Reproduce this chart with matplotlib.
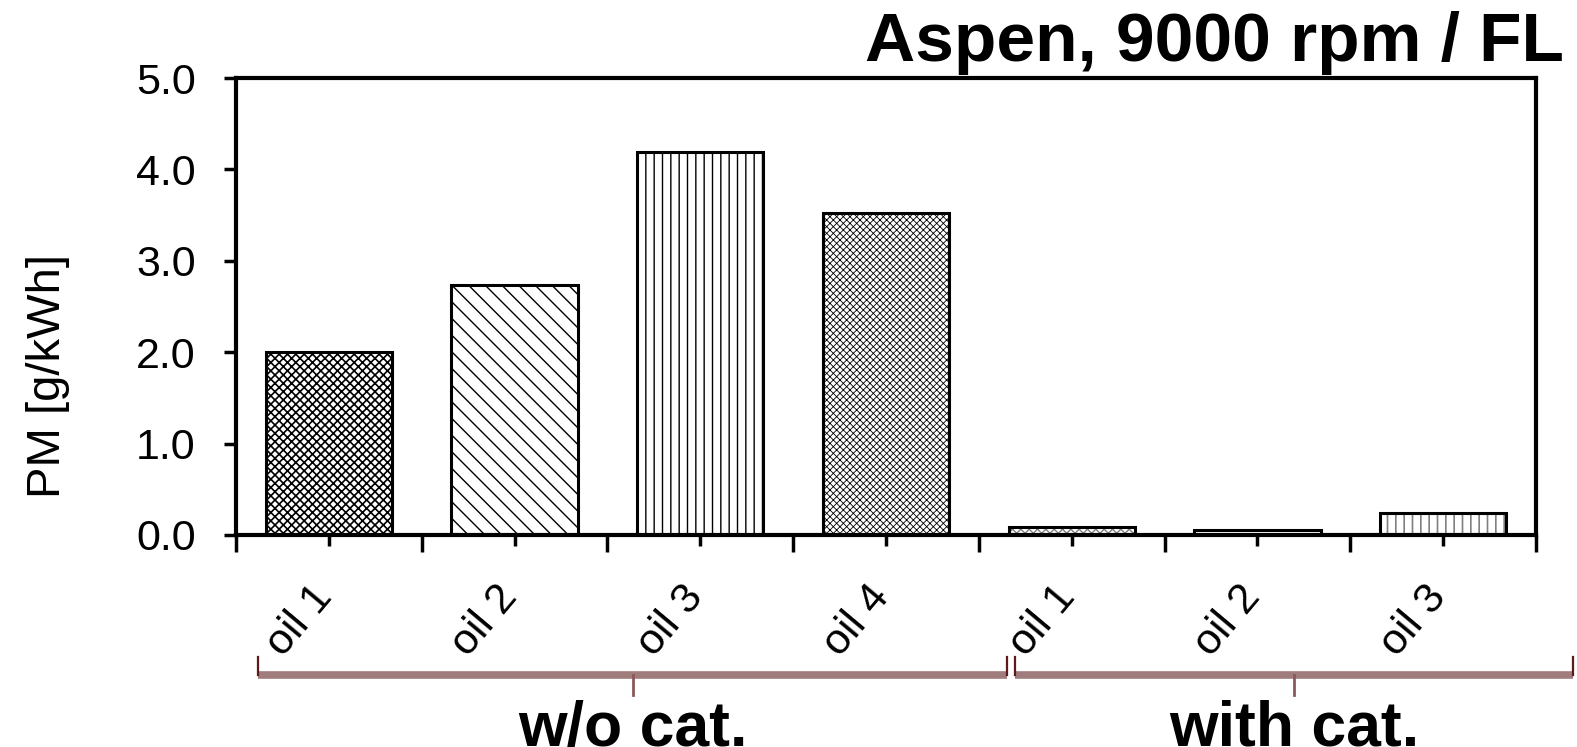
import matplotlib
matplotlib.use("Agg")
import matplotlib.pyplot as plt
import matplotlib.transforms as mtransforms
import numpy as np

plt.rcParams['font.family'] = ['Liberation Sans', 'DejaVu Sans']

# data
oils = ['oil 1', 'oil 2', 'oil 3', 'oil 4', 'oil 1', 'oil 2', 'oil 3']
pm = [2.0, 2.73, 4.19, 3.52, 0.09, 0.055, 0.24]
groups = ['w/o cat.', 'with cat.']

# styles per bar
hatches = ['xxxx', '\\\\', '||', 'xxxxx', 'xxxx', '--', '||']
hatch_cols = ['black', 'black', 'black', 'black', '#808080', '#808080', '#808080']
hatch_lw = [1.2, 1.0, 1.0, 0.6, 1.0, 1.0, 1.2]

fig = plt.figure(figsize=(15.77, 7.47), dpi=100)
ax = fig.add_axes([236/1577, 1-535/747, 1300/1577, 457/747])

x = np.arange(len(pm))
w = 0.68
for i in range(len(pm)):
    with plt.rc_context({'hatch.linewidth': hatch_lw[i]}):
        b = ax.bar(x[i], pm[i], w, color='white', edgecolor=hatch_cols[i],
                   hatch=hatches[i], linewidth=0, zorder=2)
    for p in b:
        if hasattr(p, 'set_hatch_linewidth'):
            p.set_hatch_linewidth(hatch_lw[i])
    ax.bar(x[i], pm[i], w, fill=False, edgecolor='black', linewidth=2.2, zorder=3)

ax.set_xlim(-0.5, len(pm) - 0.5)
ax.set_ylim(0, 5)
yt = np.arange(0, 5.01, 1.0)
ax.set_yticks(yt)
ax.set_yticklabels(['%.1f' % v for v in yt], fontsize=31)
ax.tick_params(axis='y', length=9, width=2.5, pad=20)

# major ticks at category edges, labels at the centres
ax.set_xticks(np.arange(-0.5, len(pm)), [''] * (len(pm) + 1))
ax.set_xticks(x, oils, minor=True)
ax.tick_params(axis='x', which='major', length=12, width=2.5)
ax.tick_params(axis='x', which='minor', length=8, width=2.5, pad=0)
off = mtransforms.ScaledTranslation(-0.04, -0.44, fig.dpi_scale_trans)
for lab in ax.get_xticklabels(minor=True):
    lab.set_fontsize(31)
    lab.set_rotation(50)
    lab.set_ha('right')
    lab.set_va('center')
    lab.set_rotation_mode('anchor')
    lab.set_transform(lab.get_transform() + off)

for s in ax.spines.values():
    s.set_linewidth(3)

ax.set_ylabel('PM [g/kWh]', fontsize=34)
ax.yaxis.set_label_coords(-0.128, 0.348)

fig.text(0.992, 0.985, 'Aspen, 9000 rpm / FL', ha='right', va='top',
         fontsize=50, fontweight='bold')

# group braces under the labels
tr = mtransforms.blended_transform_factory(ax.transData, ax.transAxes)
starts = [-0.38, 3.695]
ends = [3.652, 6.70]
for g in range(len(groups)):
    a, b = starts[g], ends[g]
    mid = (a + b) / 2
    ax.plot([a, b], [-0.306, -0.306], color='#a07c7c', lw=5.5,
            transform=tr, clip_on=False, solid_capstyle='butt')
    for e in (a, b):
        ax.plot([e, e], [-0.267, -0.306], color='#5c1a1a', lw=1.6,
                transform=tr, clip_on=False)
    ax.plot([mid, mid], [-0.306, -0.35], color='#8a5a5a', lw=2,
            transform=tr, clip_on=False)
    ax.text(mid, -0.36, groups[g], transform=tr, ha='center', va='top',
            fontsize=45, fontweight='bold')

fig.savefig('out.png', dpi=100)
